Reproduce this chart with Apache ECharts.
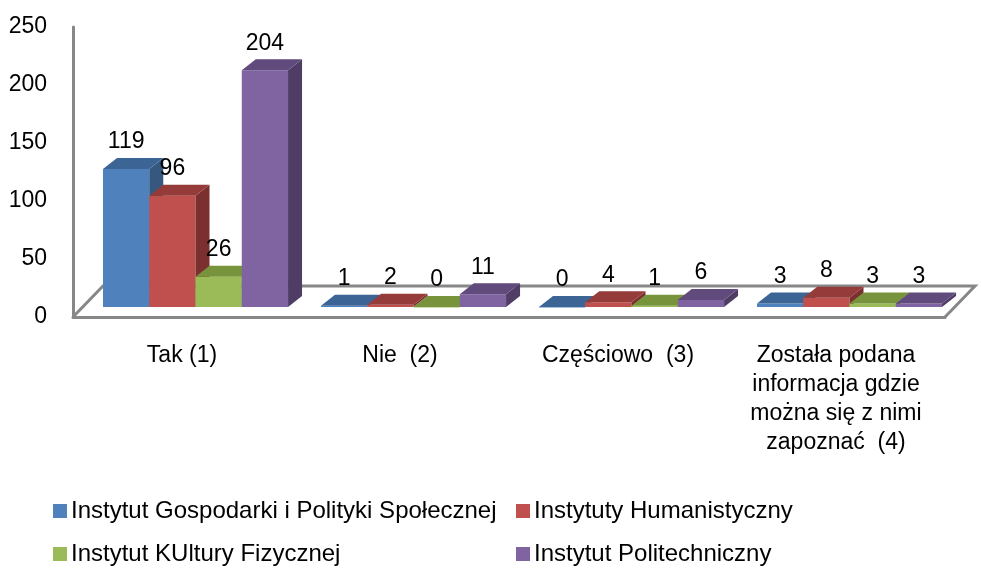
<!DOCTYPE html>
<html>
<head>
<meta charset="utf-8">
<script src="https://cdn.jsdelivr.net/npm/echarts@6/dist/echarts.min.js"></script>
<style>
html,body{margin:0;padding:0;background:#fff;}
#chart{width:981px;height:572px;}
</style>
</head>
<body>
<div id="chart"></div>
<script>
// ---- data ----
const categories = ['Tak (1)', 'Nie  (2)', 'Częściowo  (3)', 'Została podana\ninformacja gdzie\nmożna się z nimi\nzapoznać  (4)'];
const seriesNames = ['Instytut Gospodarki i Polityki Społecznej', 'Instytuty Humanistyczny', 'Instytut KUltury Fizycznej', 'Instytut Politechniczny'];
const gospodarki = [119, 1, 0, 3];
const humanistyczny = [96, 2, 4, 8];
const kultury = [26, 0, 1, 3];
const politechniczny = [204, 11, 6, 3];
const yMin = 0, yMax = 250, yStep = 50;

const seriesValues = [gospodarki, humanistyczny, kultury, politechniczny];
const palette = [
  {front: '#4F81BD', top: '#3C6596', side: '#36587F'},
  {front: '#C0504D', top: '#953B39', side: '#7B2F2E'},
  {front: '#9BBB59', top: '#77933C', side: '#5F7530'},
  {front: '#8064A2', top: '#614A7C', side: '#4F3D66'}
];
const FONT = '"Liberation Sans", Arial, sans-serif';
const GRAY = '#878787';
const DX = 14, DY = 11, LIFT = 10;

function barRender(si) {
  return function (params, api) {
    const i = api.value(0), v = api.value(1);
    const base = api.coord([i, 0]);
    const top = api.coord([i, v]);
    const band = api.size([1, 0])[0];
    const w = band * 0.2122;
    const x0 = base[0] - band * 0.3624 + si * w;
    const yb = base[1] - LIFT;
    const yt = top[1] - LIFT;
    const c = palette[si];
    return {
      type: 'group',
      children: [
        {type: 'rect', shape: {x: x0, y: yt, width: w, height: Math.max(yb - yt, 0.5)}, style: {fill: c.front}},
        {type: 'polygon', shape: {points: [[x0 + w, yt], [x0 + w + DX, yt - DY], [x0 + w + DX, yb - DY], [x0 + w, yb]]}, style: {fill: c.side}},
        {type: 'polygon', shape: {points: [[x0, yt], [x0 + w, yt], [x0 + w + DX, yt - DY], [x0 + DX, yt - DY]]}, style: {fill: c.top}},
        {type: 'text', z2: 10, style: {text: String(v), x: x0 + w / 2, y: yt - DY - 16, align: 'center', verticalAlign: 'middle', fontSize: 23, fontFamily: FONT, fill: '#000'}}
      ]
    };
  };
}

function floorRender(params, api) {
  const cs = params.coordSys;
  const x = cs.x, y = cs.y + cs.height, w = cs.width;
  return {
    type: 'polyline',
    shape: {points: [[x, y], [x + 30, y - 31], [x + w + 30, y - 31], [x + w, y]]},
    style: {stroke: GRAY, lineWidth: 3, fill: null}
  };
}

const series = [{
  type: 'custom', name: 'floor', silent: true, z: 1,
  renderItem: floorRender, data: [[0, 0]]
}];
seriesNames.forEach(function (name, si) {
  series.push({
    type: 'custom', name: name, silent: true, z: 2 + si,
    itemStyle: {color: palette[si].front},
    renderItem: barRender(si),
    data: seriesValues[si].map(function (v, i) { return [i, v]; })
  });
});

const legendPos = [[53, 499], [516, 499], [53, 542], [516, 542]];
const legends = seriesNames.map(function (name, si) {
  return {
    orient: 'horizontal', left: legendPos[si][0], top: legendPos[si][1],
    itemWidth: 14, itemHeight: 14, padding: 0, icon: 'rect', selectedMode: false,
    textStyle: {fontSize: 24, fontFamily: FONT, color: '#000', padding: [0, 0, 0, -1]},
    data: [{name: name, itemStyle: {color: palette[si].front}}]
  };
});

const chart = echarts.init(document.getElementById('chart'), null, {renderer: 'canvas'});
chart.setOption({
  animation: false,
  backgroundColor: '#fff',
  grid: {left: 73, right: 36, top: 27, bottom: 255, containLabel: false},
  xAxis: {
    type: 'category', data: categories,
    axisLine: {show: true, lineStyle: {color: GRAY, width: 3}},
    axisTick: {show: false},
    axisLabel: {interval: 0, fontSize: 23, fontFamily: FONT, color: '#000', lineHeight: 29, margin: 24, align: 'center'}
  },
  yAxis: {
    type: 'value', min: yMin, max: yMax, interval: yStep,
    axisLine: {show: true, lineStyle: {color: GRAY, width: 3}},
    axisTick: {show: false},
    splitLine: {show: false},
    axisLabel: {fontSize: 23, fontFamily: FONT, color: '#000', margin: 26}
  },
  legend: legends,
  series: series
});
</script>
</body>
</html>
